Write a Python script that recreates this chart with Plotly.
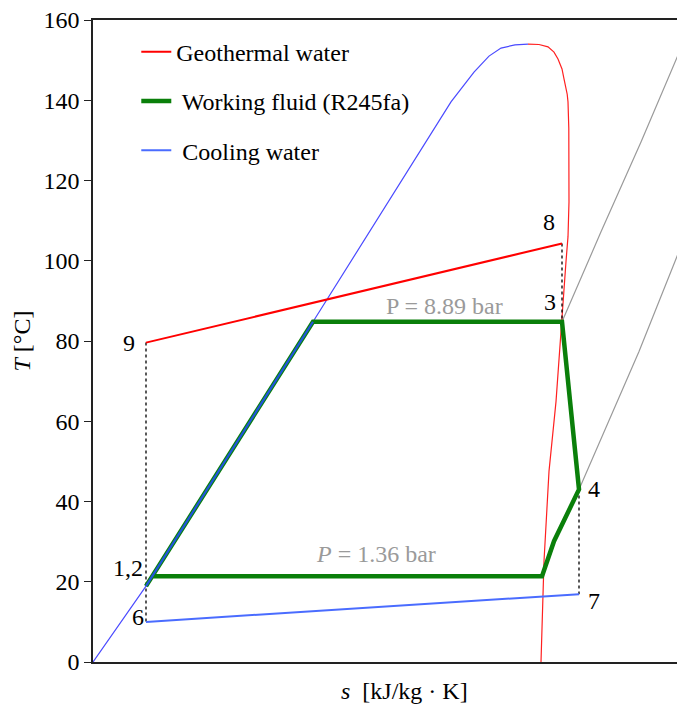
import plotly.graph_objects as go

# ---- data (s in arbitrary kJ/kg·K units, T in °C) ----
dome_liq_s = [1.000, 1.1325, 1.55, 1.895, 1.9525, 1.99, 2.02, 2.055, 2.0875]
dome_liq_T = [0.0, 18.9, 84.8, 139.6, 147.0, 151.0, 153.0, 153.8, 154.0]
dome_vap_s = [2.0875, 2.115, 2.1375, 2.1525, 2.1625, 2.1725, 2.1775, 2.1855, 2.1875, 2.1895, 2.19, 2.1875, 2.1825, 2.1725, 2.1575, 2.14, 2.1275, 2.12]
dome_vap_T = [154.0, 153.9, 153.3, 152.0, 150.3, 147.8, 145.3, 141.5, 139.6, 133.0, 114.7, 106.0, 99.8, 84.8, 64.9, 47.5, 25.1, 0.0]

cycle_s = [1.1325, 1.55, 2.1725, 2.215, 2.1525, 2.1225, 1.145]
cycle_T = [18.9, 84.8, 84.8, 43.0, 30.1, 21.4, 21.4]

heat_s = [1.1325, 1.55]
heat_T = [18.9, 84.8]

geo_s = [1.1325, 2.1725]
geo_T = [79.6, 104.3]

cool_s = [1.1325, 2.215]
cool_T = [10.0, 16.9]

iso_hi_s = [2.1725, 2.27, 2.37, 2.4825, 2.50]
iso_hi_T = [84.8, 107.2, 129.6, 155.8, 160.0]
iso_lo_s = [2.215, 2.295, 2.365, 2.4825, 2.52]
iso_lo_T = [43.0, 61.2, 77.4, 106.7, 115.9]

drop_lines = [([1.1325, 1.1325], [79.6, 10.0]),
              ([2.1725, 2.1725], [104.3, 84.8]),
              ([2.215, 2.215], [43.0, 16.9])]

point_labels = ["9", "8", "3", "4", "1,2", "6", "7"]
point_s = [1.09, 2.14, 2.1425, 2.2525, 1.0875, 1.1125, 2.2525]
point_T = [79.6, 109.7, 89.8, 43.0, 23.4, 11.2, 15.2]

y_ticks = [0, 20, 40, 60, 80, 100, 120, 140, 160]

FONT = "Liberation Serif, Times New Roman, serif"
FS = 24

fig = go.Figure()

# isobars (gray)
for xs, ys in [(iso_hi_s, iso_hi_T), (iso_lo_s, iso_lo_T)]:
    fig.add_trace(go.Scatter(x=xs, y=ys, mode="lines", line=dict(color="#9a9a9a", width=1.2),
                             showlegend=False, hoverinfo="skip"))

# saturation dome
fig.add_trace(go.Scatter(x=dome_liq_s, y=dome_liq_T, mode="lines", line=dict(color="#4a4aff", width=1.2),
                         showlegend=False, hoverinfo="skip"))
fig.add_trace(go.Scatter(x=dome_vap_s, y=dome_vap_T, mode="lines", line=dict(color="#ff2020", width=1.2),
                         showlegend=False, hoverinfo="skip"))

# dashed drop lines
for xs, ys in drop_lines:
    fig.add_trace(go.Scatter(x=xs, y=ys, mode="lines", line=dict(color="black", width=1.3, dash="3px,3px"),
                             showlegend=False, hoverinfo="skip"))

# geothermal water
fig.add_trace(go.Scatter(x=geo_s, y=geo_T, mode="lines", line=dict(color="#ff0000", width=2),
                         name="Geothermal water", legendgroup="a"))
# working fluid
fig.add_trace(go.Scatter(x=cycle_s, y=cycle_T, mode="lines", line=dict(color="#0a7f0a", width=4.5),
                         name=" Working fluid (R245fa)", legendgroup="b"))
# cooling water
fig.add_trace(go.Scatter(x=cool_s, y=cool_T, mode="lines", line=dict(color="#4a6cff", width=2),
                         name=" Cooling water", legendgroup="c"))
# blue overlay on heating segment
fig.add_trace(go.Scatter(x=heat_s, y=heat_T, mode="lines", line=dict(color="#2255dd", width=2.2),
                         showlegend=False, hoverinfo="skip"))

for lab, xs, ys in zip(point_labels, point_s, point_T):
    fig.add_annotation(x=xs, y=ys, text=lab, showarrow=False,
                       font=dict(family=FONT, size=FS, color="black"))

fig.add_annotation(x=1.8775, y=88.8, text="P = 8.89 bar", showarrow=False,
                   font=dict(family=FONT, size=FS, color="#9a9a9a"))
fig.add_annotation(x=1.7075, y=27.0, text="<i>P</i> = 1.36 bar", showarrow=False,
                   font=dict(family=FONT, size=FS, color="#9a9a9a"))

# x-axis title
fig.add_annotation(xref="paper", yref="paper", x=0.526, y=-0.045, xanchor="center", yanchor="middle",
                   text="<i>s</i>  [kJ/kg · K]",
                   showarrow=False, font=dict(family=FONT, size=FS, color="black"))

fig.update_layout(
    width=685, height=704,
    margin=dict(l=85, r=7, t=12, b=50, autoexpand=False),
    paper_bgcolor="white", plot_bgcolor="white",
    font=dict(family=FONT, size=FS, color="black"),
    legend=dict(x=0.073, y=0.985, xanchor="left", yanchor="top",
                bgcolor="rgba(0,0,0,0)", tracegroupgap=15,
                font=dict(family=FONT, size=FS, color="black"), itemwidth=30),
    xaxis=dict(range=[1.0, 2.4825], showgrid=False, zeroline=False, showticklabels=False,
               ticks="", showline=True, linecolor="#222", linewidth=1.5, mirror=True, automargin=False),
    yaxis=dict(range=[0, 160], tickvals=y_ticks, showgrid=False, zeroline=False,
               ticks="outside", ticklen=7, tickcolor="#222", showline=True, linecolor="#222",
               linewidth=1.5, tickfont=dict(family=FONT, size=FS), ticklabeloverflow="allow",
               automargin=False,
               title=dict(text="<i>T</i> [°C]", font=dict(family=FONT, size=FS), standoff=6)),
)

fig.write_html("out.html")
